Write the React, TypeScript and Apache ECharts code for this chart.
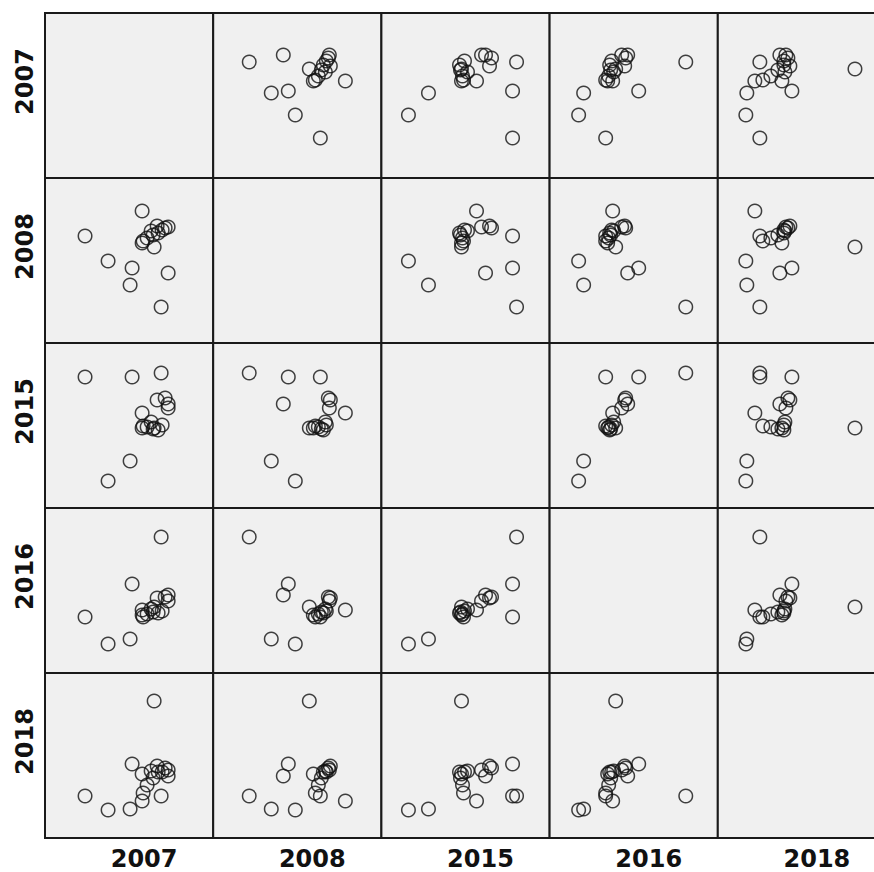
import React, { useEffect, useRef } from "react";
import * as echarts from "echarts";

// Variables (years) shown in the scatterplot matrix
const years = ["2007", "2008", "2015", "2016", "2018"];

const v2007 = [97, 40, 63, 87, 85, 123, 116, 97, 109, 98, 102, 112, 117, 113, 106, 120, 123, 108];
const v2008 = [132, 107, 82, 75, 58, 70, 36, 100, 96, 102, 105, 117, 113, 110, 112, 115, 116, 108];
const v2015 = [95, 131, 27, 131, 47, 104, 135, 80, 80, 82, 81, 108, 83, 78, 86, 110, 100, 79];
const v2016 = [63, 56, 29, 89, 34, 78, 136, 58, 66, 56, 59, 75, 62, 60, 64, 76, 72, 61];
const v2018 = [37, 42, 28, 74, 29, 62, 42, 64, 137, 45, 53, 72, 66, 66, 67, 70, 68, 60];

const columns = [v2007, v2008, v2015, v2016, v2018];

export default function App() {
  const ref = useRef<HTMLDivElement>(null);

  useEffect(() => {
    if (!ref.current) return;
    const chart = echarts.init(ref.current, undefined, { renderer: "svg" });

    const left0 = 45;
    const top0 = 13;
    const cw = 168.2;
    const rh = 165;
    const n = years.length;

    const grids: any[] = [];
    const xAxes: any[] = [];
    const yAxes: any[] = [];
    const series: any[] = [];
    const graphics: any[] = [];

    let idx = 0;
    for (let r = 0; r < n; r++) {
      for (let c = 0; c < n; c++) {
        grids.push({
          left: left0 + c * cw,
          top: top0 + r * rh,
          width: cw,
          height: rh,
          show: true,
          backgroundColor: "#f0f0f0",
          borderColor: "#1a1a1a",
          borderWidth: 2,
        });
        xAxes.push({
          gridIndex: idx,
          type: "value",
          min: 0,
          max: 168,
          show: false,
        });
        yAxes.push({
          gridIndex: idx,
          type: "value",
          min: 0,
          max: 165,
          show: false,
        });
        if (r !== c) {
          const xs = columns[c];
          const ys = columns[r];
          series.push({
            type: "scatter",
            xAxisIndex: idx,
            yAxisIndex: idx,
            symbol: "circle",
            symbolSize: 13.5,
            itemStyle: {
              color: "rgba(0,0,0,0)",
              borderColor: "#111",
              borderWidth: 1.5,
            },
            data: xs.map((x, i) => [x, ys[i]]),
          });
        }
        idx++;
      }
    }

    for (let i = 0; i < n; i++) {
      graphics.push({
        type: "text",
        x: left0 + i * cw + cw / 2 + 15,
        y: 859,
        style: {
          text: years[i],
          font: "bold 24px 'DejaVu Sans'",
          fill: "#111",
          textAlign: "center",
          textVerticalAlign: "middle",
        },
      });
      graphics.push({
        type: "text",
        x: 25,
        y: top0 + i * rh + rh / 2 - 14,
        rotation: Math.PI / 2,
        style: {
          text: years[i],
          font: "bold 24px 'DejaVu Sans'",
          fill: "#111",
          textAlign: "center",
          textVerticalAlign: "middle",
        },
      });
    }

    chart.setOption({
      animation: false,
      backgroundColor: "#ffffff",
      grid: grids,
      xAxis: xAxes,
      yAxis: yAxes,
      series,
      graphic: graphics,
    });

    return () => chart.dispose();
  }, []);

  return (
    <div
      style={{
        position: "absolute",
        left: 0,
        top: 0,
        width: 874,
        height: 872,
        overflow: "hidden",
      }}
    >
      <div ref={ref} style={{ width: 900, height: 872 }} />
    </div>
  );
}
